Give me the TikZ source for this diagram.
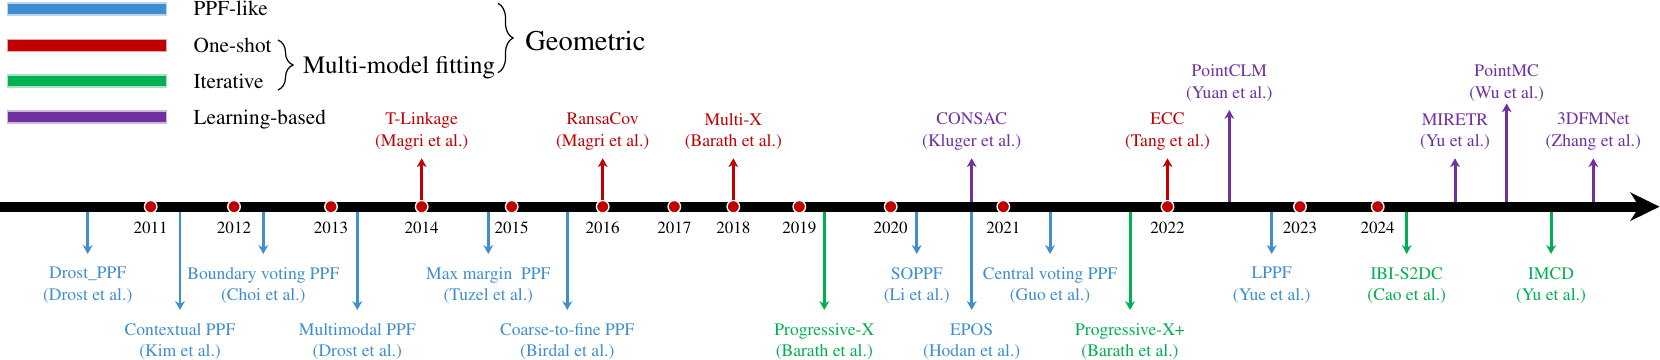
\documentclass[tikz,border=0pt]{standalone}
\usepackage[T1]{fontenc}
\usepackage{mathptmx}
\usepackage{tikz}
\usetikzlibrary{arrows.meta, positioning, decorations.pathreplacing}

\definecolor{ppfblue}{HTML}{3E8ED0}
\definecolor{shotred}{HTML}{C00000}
\definecolor{itergreen}{HTML}{00B050}
\definecolor{learnpurple}{HTML}{7030A0}

\begin{document}
\begin{tikzpicture}[
  dot/.style={circle, fill=shotred, draw=white, line width=0.8pt, minimum size=0.25cm, inner sep=0pt},
  year/.style={font=\fontsize{9.7}{11.6}\selectfont, inner sep=0pt},
  meth/.style={font=\fontsize{10}{12.3}\selectfont, align=center, inner sep=0pt},
  down/.style={-{Stealth[length=5pt, width=5.5pt, inset=1.5pt]}, line width=1.7pt, shorten >=0.26cm},
  up/.style={-{Stealth[length=5pt, width=5.5pt, inset=1.5pt]}, line width=1.7pt, shorten >=0.16cm},
  bar/.style={minimum width=3.19cm, minimum height=0.24cm, inner sep=0pt, line width=0.8pt},
  legtext/.style={font=\fontsize{12.1}{14}\selectfont, inner sep=0pt, anchor=base west},
  brace/.style={decorate, decoration={brace, amplitude=0.3cm}, line width=0.7pt}
]
\useasboundingbox (0,0) rectangle (33.2,7.2);

% Legend
\node[bar, fill=ppfblue, draw=ppfblue!35] (kppf) at (1.74,7.023) {};
\node[bar, fill=shotred, draw=shotred!35] (kshot) at (1.74,6.29) {};
\node[bar, fill=itergreen, draw=itergreen!35] (kiter) at (1.74,5.576) {};
\node[bar, fill=learnpurple, draw=learnpurple!35] (klearn) at (1.74,4.856) {};
\node[legtext] (tppf) at (3.866,6.88) {PPF-like};
\node[legtext] (tshot) at (3.866,6.154) {One-shot};
\node[legtext] (titer) at (3.866,5.434) {Iterative};
\node[legtext] (tlearn) at (3.866,4.714) {Learning-based};

% Braces
\coordinate (bs1) at (5.56,6.4);
\coordinate (bs2) at (5.56,5.4);
\draw[brace] (bs1) -- (bs2);
\node[anchor=base west, inner sep=0pt, font=\fontsize{14.2}{17}\selectfont] (mmf) at (6.054,5.72) {Multi-model fitting};
\coordinate (bg1) at (9.96,7.134);
\coordinate (bg2) at (9.96,5.746);
\draw[brace] (bg1) -- (bg2);
\node[anchor=base west, inner sep=0pt, font=\fontsize{16.2}{19}\selectfont] (geo) at (10.5,6.18) {Geometric};

% Time axis
\coordinate (axstart) at (0,3.066);
\coordinate (axend) at (33.19,3.066);
\coordinate (axt) at (0,3.166);
\coordinate (axb) at (0,2.966);
\draw[line width=0.2cm, -{Stealth[length=16.5pt, width=16pt, inset=5pt]}] (axstart) -- (axend);

% Years
\node[dot] (y2011) at (3.014,3.066) {};
\node[dot] (y2012) at (4.68,3.066) {};
\node[dot] (y2013) at (6.62,3.066) {};
\node[dot] (y2014) at (8.434,3.066) {};
\node[dot] (y2015) at (10.234,3.066) {};
\node[dot] (y2016) at (12.054,3.066) {};
\node[dot] (y2017) at (13.486,3.066) {};
\node[dot] (y2018) at (14.666,3.066) {};
\node[dot] (y2019) at (15.986,3.066) {};
\node[dot] (y2020) at (17.814,3.066) {};
\node[dot] (y2021) at (20.066,3.066) {};
\node[dot] (y2022) at (23.35,3.066) {};
\node[dot] (y2023) at (26.0,3.066) {};
\node[dot] (y2024) at (27.554,3.066) {};
\node[year] (t2011) at (3.014,2.634) {2011};
\node[year] (t2012) at (4.68,2.634) {2012};
\node[year] (t2013) at (6.62,2.634) {2013};
\node[year] (t2014) at (8.434,2.634) {2014};
\node[year] (t2015) at (10.234,2.634) {2015};
\node[year] (t2016) at (12.054,2.634) {2016};
\node[year] (t2017) at (13.486,2.634) {2017};
\node[year] (t2018) at (14.666,2.634) {2018};
\node[year] (t2019) at (15.986,2.634) {2019};
\node[year] (t2020) at (17.814,2.634) {2020};
\node[year] (t2021) at (20.066,2.634) {2021};
\node[year] (t2022) at (23.35,2.634) {2022};
\node[year] (t2023) at (26.0,2.634) {2023};
\node[year] (t2024) at (27.554,2.634) {2024};

% PPF-like methods
\node[meth, ppfblue, anchor=north] (drost) at (1.754,1.86) {Drost\_PPF\\(Drost et al.)};
\node[meth, ppfblue, anchor=north] (context) at (3.6,0.74) {Contextual PPF\\(Kim et al.)};
\node[meth, ppfblue, anchor=north] (boundary) at (5.266,1.86) {Boundary voting PPF\\(Choi et al.)};
\node[meth, ppfblue, anchor=north] (multimodal) at (7.146,0.74) {Multimodal PPF\\(Drost et al.)};
\node[meth, ppfblue, anchor=north] (maxmargin) at (9.766,1.86) {Max margin~ PPF\\(Tuzel et al.)};
\node[meth, ppfblue, anchor=north] (coarse) at (11.346,0.74) {Coarse-to-fine PPF\\(Birdal et al.)};
\node[meth, ppfblue, anchor=north] (soppf) at (18.334,1.86) {SOPPF\\(Li et al.)};
\node[meth, ppfblue, anchor=north] (epos) at (19.434,0.74) {EPOS\\(Hodan et al.)};
\node[meth, ppfblue, anchor=north] (central) at (21.0,1.86) {Central voting PPF\\(Guo et al.)};
\node[meth, ppfblue, anchor=north] (lppf) at (25.434,1.86) {LPPF\\(Yue et al.)};
\draw[down, ppfblue] (drost.north |- axb) -- (drost.north);
\draw[down, ppfblue] (context.north |- axb) -- (context.north);
\draw[down, ppfblue] (boundary.north |- axb) -- (boundary.north);
\draw[down, ppfblue] (multimodal.north |- axb) -- (multimodal.north);
\draw[down, ppfblue] (maxmargin.north |- axb) -- (maxmargin.north);
\draw[down, ppfblue] (coarse.north |- axb) -- (coarse.north);
\draw[down, ppfblue] (soppf.north |- axb) -- (soppf.north);
\draw[down, ppfblue] (epos.north |- axb) -- (epos.north);
\draw[down, ppfblue] (central.north |- axb) -- (central.north);
\draw[down, ppfblue] (lppf.north |- axb) -- (lppf.north);

% Iterative multi-model fitting
\node[meth, itergreen, anchor=north] (progx) at (16.486,0.74) {Progressive-X\\(Barath et al.)};
\node[meth, itergreen, anchor=north] (progxp) at (22.6,0.74) {Progressive-X+\\(Barath et al.)};
\node[meth, itergreen, anchor=north] (ibi) at (28.134,1.86) {IBI-S2DC\\(Cao et al.)};
\node[meth, itergreen, anchor=north] (imcd) at (31.02,1.86) {IMCD\\(Yu et al.)};
\draw[down, itergreen] (progx.north |- axb) -- (progx.north);
\draw[down, itergreen] (progxp.north |- axb) -- (progxp.north);
\draw[down, itergreen] (ibi.north |- axb) -- (ibi.north);
\draw[down, itergreen] (imcd.north |- axb) -- (imcd.north);

% One-shot multi-model fitting
\node[meth, shotred, anchor=south] (tlink) at (8.434,4.194) {T-Linkage\\(Magri et al.)};
\node[meth, shotred, anchor=south] (ransacov) at (12.054,4.194) {RansaCov\\(Magri et al.)};
\node[meth, shotred, anchor=south] (multix) at (14.666,4.194) {Multi-X\\(Barath et al.)};
\node[meth, shotred, anchor=south] (ecc) at (23.35,4.194) {ECC\\(Tang et al.)};
\draw[up, shotred] (y2014.north) -- (tlink.south);
\draw[up, shotred] (y2016.north) -- (ransacov.south);
\draw[up, shotred] (y2018.north) -- (multix.south);
\draw[up, shotred] (y2022.north) -- (ecc.south);

% Learning-based methods
\node[meth, learnpurple, anchor=south] (consac) at (19.434,4.194) {CONSAC\\(Kluger et al.)};
\node[meth, learnpurple, anchor=south] (pointclm) at (24.586,5.16) {PointCLM\\(Yuan et al.)};
\node[meth, learnpurple, anchor=south] (miretr) at (29.1,4.194) {MIRETR\\(Yu et al.)};
\node[meth, learnpurple, anchor=south] (pointmc) at (30.134,5.16) {PointMC\\(Wu et al.)};
\node[meth, learnpurple, anchor=south] (fmnet) at (31.866,4.194) {3DFMNet\\(Zhang et al.)};
\draw[up, learnpurple] (consac.south |- axt) -- (consac.south);
\draw[up, learnpurple] (pointclm.south |- axt) -- (pointclm.south);
\draw[up, learnpurple] (miretr.south |- axt) -- (miretr.south);
\draw[up, learnpurple, shorten >=0.03cm] (pointmc.south |- axt) -- (pointmc.south);
\draw[up, learnpurple] (fmnet.south |- axt) -- (fmnet.south);

\end{tikzpicture}
\end{document}
